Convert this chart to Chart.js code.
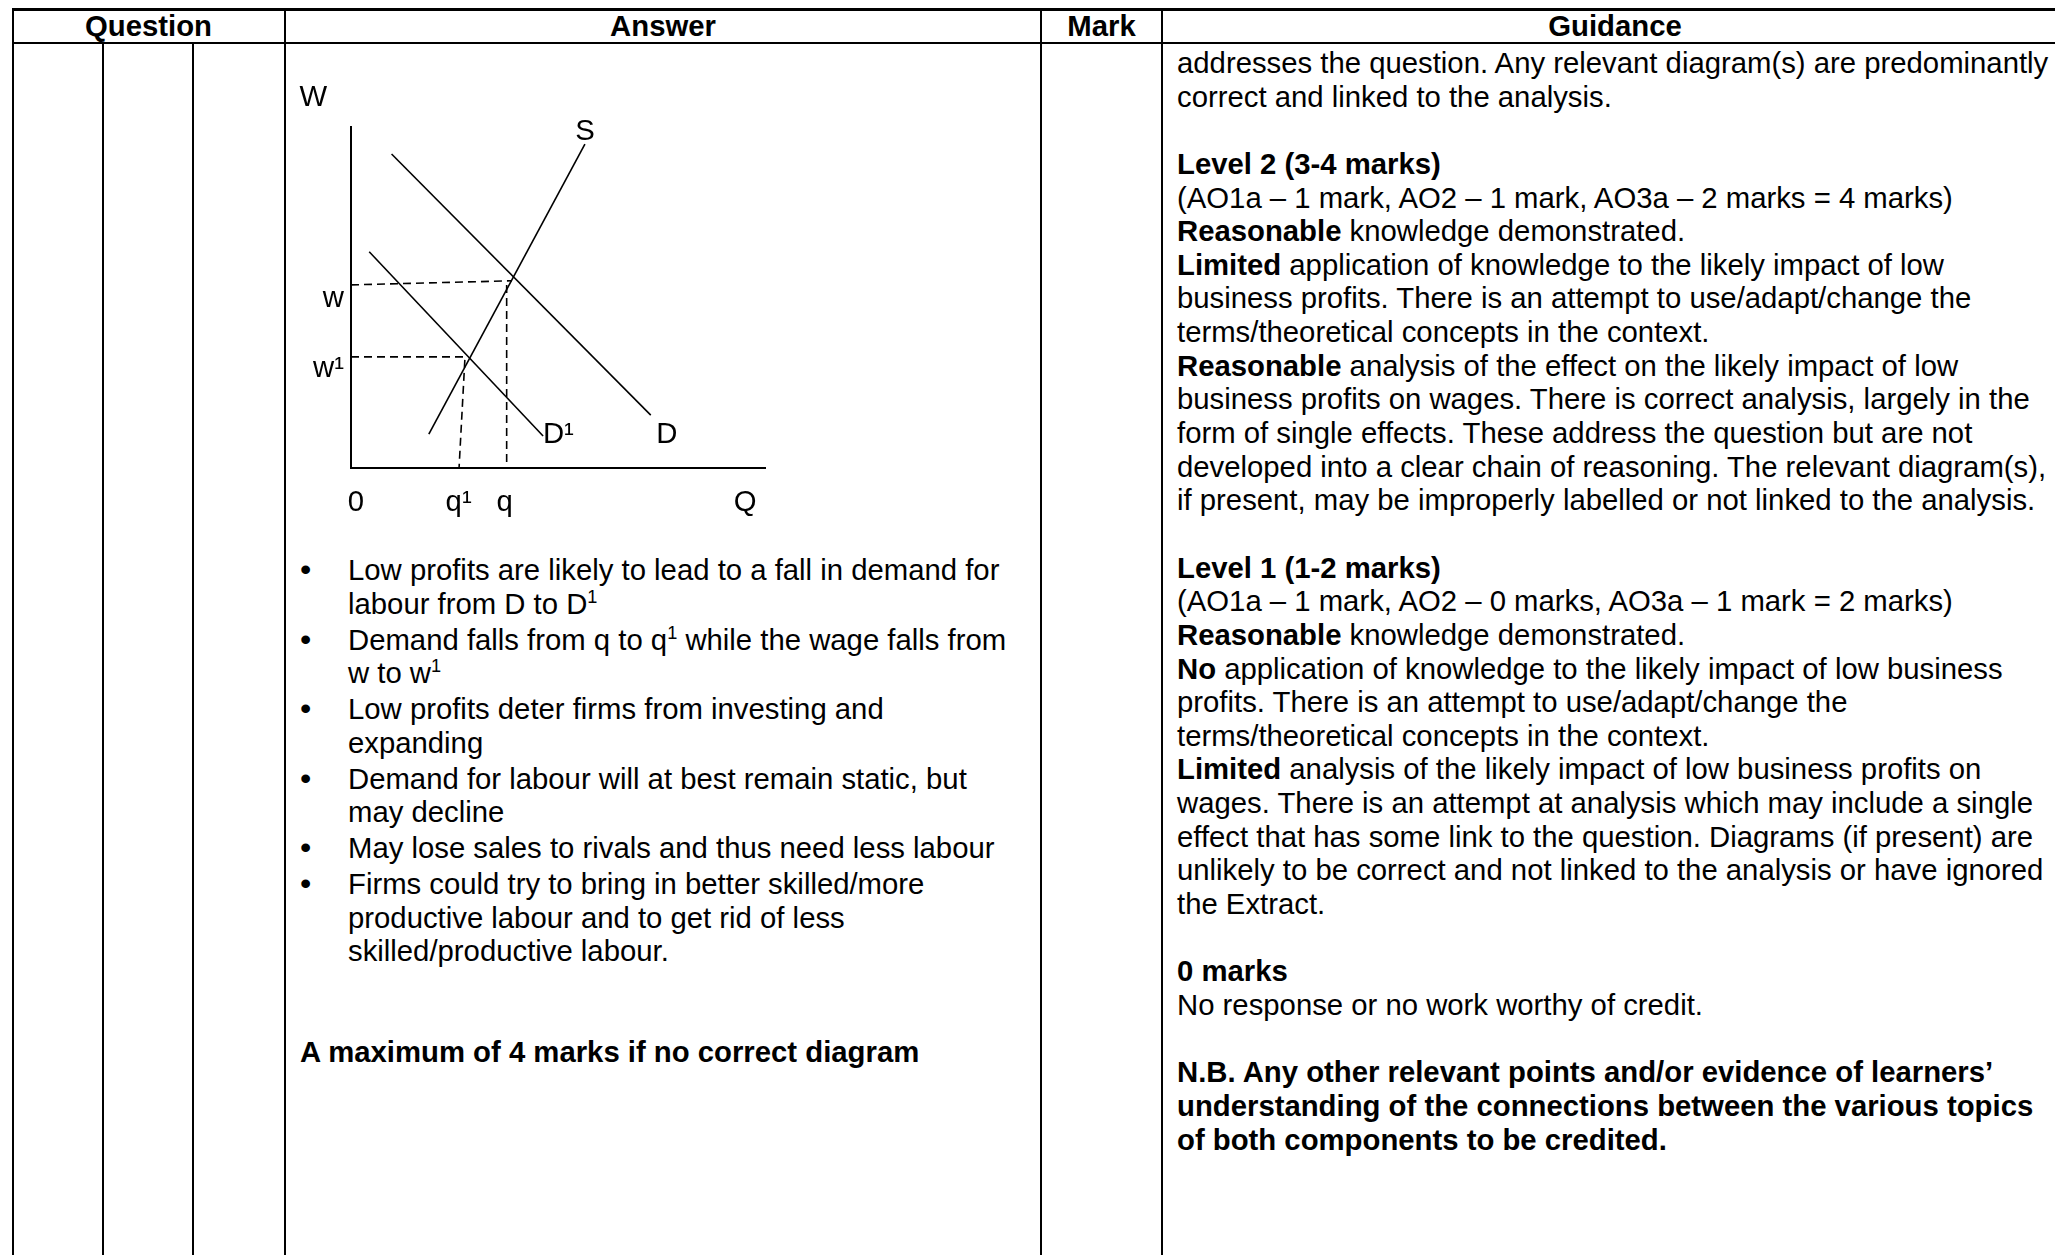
<!DOCTYPE html>
<html>
<head>
<meta charset="utf-8">
<title>Labour market diagram</title>
<script src="https://cdn.jsdelivr.net/npm/chart.js"></script>
<style>
  html, body {
    margin: 0;
    padding: 0;
    width: 2055px;
    height: 1255px;
    overflow: hidden;
    background: #fff;
    color: #000;
    font-family: "Liberation Sans", Arial, sans-serif;
    font-size: 29.3px;
    line-height: 33.65px;
  }
  .rule { position: absolute; background: #000; }
  .head {
    position: absolute;
    top: 9px;
    font-weight: bold;
    text-align: center;
    white-space: nowrap;
  }
  .block { position: absolute; white-space: nowrap; }
  .ln { height: 33.65px; }
  sup { font-size: 0.62em; line-height: 0; vertical-align: 0.6em; }
  ul { list-style: none; margin: 0; padding: 0; }
  li { position: relative; padding-left: 48px; margin-bottom: 2.2px; }
  li::before { content: "\2022"; position: absolute; left: 0; top: 0; font-size: 1.1em; line-height: 33.65px; }
  #diagram { position: absolute; left: 286px; top: 60px; width: 520px; height: 480px; }
</style>
</head>
<body>
  <!-- table rules -->
  <div class="rule" style="left:12px; top:8px; width:2060px; height:3px;"></div>
  <div class="rule" style="left:12px; top:42px; width:2060px; height:2px;"></div>
  <div class="rule" style="left:12px; top:8px; width:2px; height:1250px;"></div>
  <div class="rule" style="left:102px; top:42px; width:2px; height:1215px;"></div>
  <div class="rule" style="left:192px; top:42px; width:2px; height:1215px;"></div>
  <div class="rule" style="left:284px; top:8px; width:2px; height:1250px;"></div>
  <div class="rule" style="left:1040px; top:8px; width:2px; height:1250px;"></div>
  <div class="rule" style="left:1161px; top:8px; width:2px; height:1250px;"></div>

  <!-- header -->
  <div class="head" style="left:12px; width:273px;">Question</div>
  <div class="head" style="left:285px; width:756px;">Answer</div>
  <div class="head" style="left:1041px; width:121px;">Mark</div>
  <div class="head" style="left:1162px; width:906px;">Guidance</div>

  <!-- answer column -->
  <div id="diagram"><canvas id="labourChart"></canvas></div>

  <div class="block" style="left:300px; top:553px;">
    <ul>
      <li>Low profits are likely to lead to a fall in demand for<br>labour from D to D<sup>1</sup></li>
      <li>Demand falls from q to q<sup>1</sup> while the wage falls from<br>w to w<sup>1</sup></li>
      <li>Low profits deter firms from investing and<br>expanding</li>
      <li>Demand for labour will at best remain static, but<br>may decline</li>
      <li>May lose sales to rivals and thus need less labour</li>
      <li>Firms could try to bring in better skilled/more<br>productive labour and to get rid of less<br>skilled/productive labour.</li>
    </ul>
  </div>
  <div class="block" style="left:300px; top:1035px; font-weight:bold;">A maximum of 4 marks if no correct diagram</div>

  <!-- guidance column -->
  <div class="block" style="left:1177px; top:46px;">
    <div class="ln">addresses the question. Any relevant diagram(s) are predominantly</div>
    <div class="ln">correct and linked to the analysis.</div>
    <div class="ln"></div>
    <div class="ln"><b>Level 2 (3-4 marks)</b></div>
    <div class="ln">(AO1a – 1 mark, AO2 – 1 mark, AO3a – 2 marks = 4 marks)</div>
    <div class="ln"><b>Reasonable</b> knowledge demonstrated.</div>
    <div class="ln"><b>Limited</b> application of knowledge to the likely impact of low</div>
    <div class="ln">business profits. There is an attempt to use/adapt/change the</div>
    <div class="ln">terms/theoretical concepts in the context.</div>
    <div class="ln"><b>Reasonable</b> analysis of the effect on the likely impact of low</div>
    <div class="ln">business profits on wages. There is correct analysis, largely in the</div>
    <div class="ln">form of single effects. These address the question but are not</div>
    <div class="ln">developed into a clear chain of reasoning. The relevant diagram(s),</div>
    <div class="ln">if present, may be improperly labelled or not linked to the analysis.</div>
    <div class="ln"></div>
    <div class="ln"><b>Level 1 (1-2 marks)</b></div>
    <div class="ln">(AO1a – 1 mark, AO2 – 0 marks, AO3a – 1 mark = 2 marks)</div>
    <div class="ln"><b>Reasonable</b> knowledge demonstrated.</div>
    <div class="ln"><b>No</b> application of knowledge to the likely impact of low business</div>
    <div class="ln">profits. There is an attempt to use/adapt/change the</div>
    <div class="ln">terms/theoretical concepts in the context.</div>
    <div class="ln"><b>Limited</b> analysis of the likely impact of low business profits on</div>
    <div class="ln">wages. There is an attempt at analysis which may include a single</div>
    <div class="ln">effect that has some link to the question. Diagrams (if present) are</div>
    <div class="ln">unlikely to be correct and not linked to the analysis or have ignored</div>
    <div class="ln">the Extract.</div>
    <div class="ln"></div>
    <div class="ln"><b>0 marks</b></div>
    <div class="ln">No response or no work worthy of credit.</div>
    <div class="ln"></div>
    <div class="ln"><b>N.B. Any other relevant points and/or evidence of learners’</b></div>
    <div class="ln"><b>understanding of the connections between the various topics</b></div>
    <div class="ln"><b>of both components to be credited.</b></div>
  </div>

<script>
// --------------------------------
// Diagram data (axis units 0-100)
// --------------------------------
const supplyS = [{ x: 18.8, y: 9.9 }, { x: 56.5, y: 95.0 }];
const demandD = [{ x: 9.8, y: 92.1 }, { x: 72.4, y: 15.5 }];
const demandD1 = [{ x: 4.4, y: 63.4 }, { x: 46.4, y: 9.4 }];

// dashed guide lines to the axes
const wageW = [{ x: 0, y: 53.7 }, { x: 38.9, y: 54.9 }];
const quantityQ = [{ x: 37.6, y: 53.7 }, { x: 37.6, y: 0 }];
const wageW1 = [{ x: 0, y: 32.6 }, { x: 28.3, y: 32.6 }];
const quantityQ1 = [{ x: 27.5, y: 31.7 }, { x: 26.1, y: 0 }];

// axis tick labels
const xTickValues = [1.2, 26.0, 37.1, 95.2];
const xTickLabels = ["0", "q¹", "q", "Q"];
const yTickValues = [49.7, 29.2];
const yTickLabels = ["w", "w¹"];

// curve / axis names
const curveLabelText = ["W", "S", "D¹", "D"];
const curveLabelX = [-9.1, 56.5, 50.1, 76.3];
const curveLabelY = [108.4, 98.6, 9.6, 9.6];

// -------------------------------
// Helpers
// -------------------------------
const FONT = "'Liberation Sans', Arial, sans-serif";
const LABEL_SIZE = 29.3;

const solid = (data) => ({
  data,
  showLine: true,
  borderColor: "#000",
  borderWidth: 1.6,
  pointRadius: 0,
});

const dashed = (data) => ({
  data,
  showLine: true,
  borderColor: "#000",
  borderWidth: 1.6,
  borderDash: [8, 5],
  pointRadius: 0,
});

// draws W, S, D, D1 next to the axis and curve ends
const curveLabels = {
  id: "curveLabels",
  afterDatasetsDraw(chart) {
    const { ctx, scales } = chart;
    ctx.save();
    ctx.fillStyle = "#000";
    ctx.font = `${LABEL_SIZE}px ${FONT}`;
    ctx.textAlign = "center";
    ctx.textBaseline = "middle";
    curveLabelText.forEach((txt, i) => {
      ctx.fillText(
        txt,
        scales.x.getPixelForValue(curveLabelX[i]),
        scales.y.getPixelForValue(curveLabelY[i])
      );
    });
    ctx.restore();
  },
};

// -------------------------------
// Chart
// -------------------------------
new Chart(document.getElementById("labourChart").getContext("2d"), {
  type: "scatter",
  data: {
    datasets: [
      solid(supplyS),
      solid(demandD),
      solid(demandD1),
      dashed(wageW),
      dashed(quantityQ),
      dashed(wageW1),
      dashed(quantityQ1),
    ],
  },
  options: {
    responsive: true,
    maintainAspectRatio: false,
    animation: false,
    layout: { padding: { left: 0, top: 67, right: 41, bottom: 0 } },
    plugins: {
      legend: { display: false },
      tooltip: { enabled: false },
    },
    scales: {
      x: {
        type: "linear",
        min: 0,
        max: 100,
        grid: { display: false, drawTicks: false },
        border: { display: true, color: "#000", width: 2 },
        afterBuildTicks: (scale) => {
          scale.ticks = xTickValues.map((v) => ({ value: v }));
        },
        afterFit: (scale) => {
          scale.height = 72;
        },
        ticks: {
          autoSkip: false,
          maxRotation: 0,
          padding: 17,
          color: "#000",
          font: { family: FONT, size: LABEL_SIZE },
          callback: (value, index) => xTickLabels[index],
        },
      },
      y: {
        type: "linear",
        min: 0,
        max: 100,
        grid: { display: false, drawTicks: false },
        border: { display: true, color: "#000", width: 2 },
        afterBuildTicks: (scale) => {
          scale.ticks = yTickValues.map((v) => ({ value: v }));
        },
        afterFit: (scale) => {
          scale.width = 65;
        },
        ticks: {
          autoSkip: false,
          padding: 7,
          color: "#000",
          font: { family: FONT, size: LABEL_SIZE },
          callback: (value, index) => yTickLabels[index],
        },
      },
    },
  },
  plugins: [curveLabels],
});
</script>
</body>
</html>
